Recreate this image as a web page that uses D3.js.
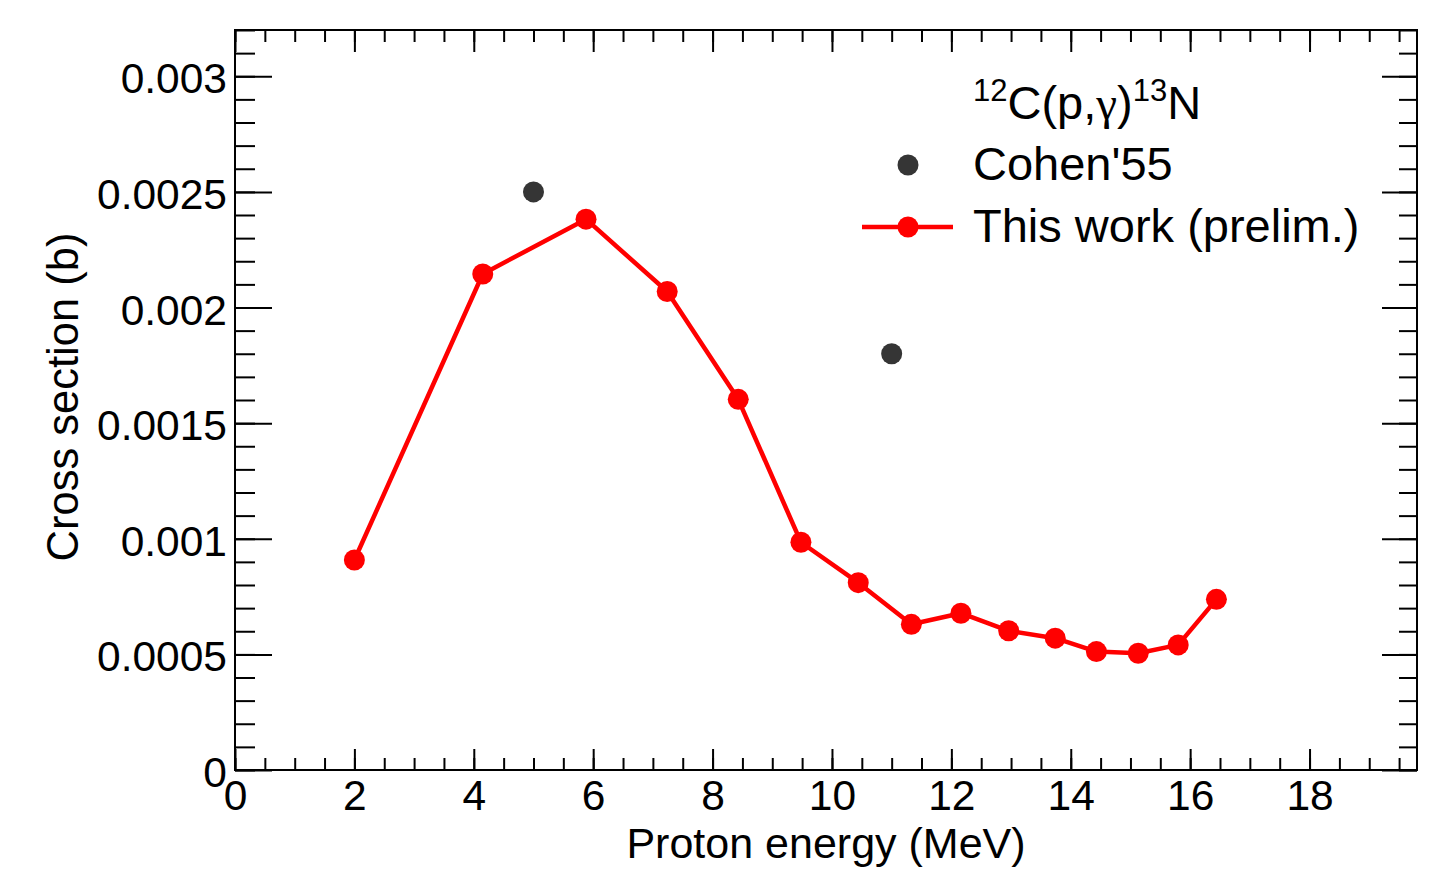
<!DOCTYPE html>
<html>
<head>
<meta charset="utf-8">
<script src="https://cdn.jsdelivr.net/npm/d3@7"></script>
<style>
  html, body { margin: 0; padding: 0; background: #fff; }
  svg { display: block; font-family: "Liberation Sans", Arial, Helvetica, sans-serif; }
</style>
</head>
<body>
<svg id="chart" width="1440" height="869"></svg>
<script>
// 12C(p,gamma)13N cross section versus proton energy
const energies = [2.0, 4.15, 5.88, 7.24, 8.43, 9.48, 10.44, 11.33, 12.16, 12.96, 13.74, 14.43, 15.13, 15.80, 16.44];
const crossSections = [0.000908, 0.002145, 0.002382, 0.002069, 0.001603, 0.000985, 0.000810, 0.000630, 0.000678, 0.000602, 0.000570, 0.000512, 0.000505, 0.000541, 0.000738];
const cohenEnergies = [5.0, 11.0];
const cohenValues = [0.0025, 0.0018];
const xTickValues = [0, 2, 4, 6, 8, 10, 12, 14, 16, 18];
const yTickValues = [0, 0.0005, 0.001, 0.0015, 0.002, 0.0025, 0.003];
const yTickLabels = ["0", "0.0005", "0.001", "0.0015", "0.002", "0.0025", "0.003"];
const xTitle = "Proton energy (MeV)";
const yTitle = "Cross section (b)";
const legendLabels = ["Cohen'55", "This work (prelim.)"];

const svg = d3.select("#chart");
const frame = { left: 235, right: 1417, top: 30, bottom: 770 };

const x = d3.scaleLinear().domain([0, 19.8]).range([frame.left, frame.right]);
const y = d3.scaleLinear().domain([0, 0.0032]).range([frame.bottom, frame.top]);

const tickFont = 42.5;
const axisStroke = "#000";

function styleAxis(g) {
  g.select(".domain").remove();
  g.selectAll(".tick line").attr("stroke", axisStroke).attr("stroke-width", 2);
  g.selectAll(".tick text").attr("fill", "#000").attr("font-size", tickFont);
}

// minor ticks
const xMinor = x.ticks(40);
const yMinor = y.ticks(32);

svg.append("g").attr("transform", `translate(0,${frame.bottom})`)
  .call(d3.axisBottom(x).tickValues(xMinor).tickSize(-12).tickFormat(""))
  .call(styleAxis);
svg.append("g").attr("transform", `translate(0,${frame.top})`)
  .call(d3.axisTop(x).tickValues(xMinor).tickSize(-12).tickFormat(""))
  .call(styleAxis);
svg.append("g").attr("transform", `translate(${frame.left},0)`)
  .call(d3.axisLeft(y).tickValues(yMinor).tickSize(-20).tickFormat(""))
  .call(styleAxis);
svg.append("g").attr("transform", `translate(${frame.right},0)`)
  .call(d3.axisRight(y).tickValues(yMinor).tickSize(-18).tickFormat(""))
  .call(styleAxis);

// major ticks and labels
svg.append("g").attr("transform", `translate(0,${frame.bottom})`)
  .call(d3.axisBottom(x).tickValues(xTickValues).tickSize(-21).tickPadding(10).tickFormat(d3.format("d")))
  .call(styleAxis);
svg.append("g").attr("transform", `translate(0,${frame.top})`)
  .call(d3.axisTop(x).tickValues(xTickValues).tickSize(-22).tickFormat(""))
  .call(styleAxis);
svg.append("g").attr("transform", `translate(${frame.left},0)`)
  .call(d3.axisLeft(y).tickValues(yTickValues).tickSize(-37).tickPadding(8)
    .tickFormat((d, i) => yTickLabels[i]))
  .call(styleAxis)
  .call(g => g.selectAll(".tick text").attr("dy", "0.39em"));
svg.append("g").attr("transform", `translate(${frame.right},0)`)
  .call(d3.axisRight(y).tickValues(yTickValues).tickSize(-35).tickFormat(""))
  .call(styleAxis);

// frame
svg.append("rect")
  .attr("x", frame.left).attr("y", frame.top)
  .attr("width", frame.right - frame.left).attr("height", frame.bottom - frame.top)
  .attr("fill", "none").attr("stroke", "#000").attr("stroke-width", 2);

// axis titles
svg.append("text")
  .attr("x", (frame.left + frame.right) / 2).attr("y", 858)
  .attr("text-anchor", "middle").attr("font-size", 43).attr("fill", "#000")
  .text(xTitle);
svg.append("text")
  .attr("transform", `translate(78,${(frame.top + frame.bottom) / 2 - 3}) rotate(-90)`)
  .attr("text-anchor", "middle").attr("font-size", 43.5).attr("fill", "#000")
  .text(yTitle);

// measurement series
const series = energies.map((e, i) => ({ e, s: crossSections[i] }));
const line = d3.line().x(d => x(d.e)).y(d => y(d.s));
svg.append("path").datum(series)
  .attr("d", line).attr("fill", "none")
  .attr("stroke", "#ff0000").attr("stroke-width", 4.5).attr("stroke-linejoin", "round");
svg.append("g").selectAll("circle").data(series).join("circle")
  .attr("cx", d => x(d.e)).attr("cy", d => y(d.s)).attr("r", 10.5)
  .attr("fill", "#ff0000");

// reference data
const cohen = cohenEnergies.map((e, i) => ({ e, s: cohenValues[i] }));
svg.append("g").selectAll("circle").data(cohen).join("circle")
  .attr("cx", d => x(d.e)).attr("cy", d => y(d.s)).attr("r", 10.5)
  .attr("fill", "#353535");

// legend
const legend = svg.append("g").attr("font-size", 47).attr("fill", "#000");
const legendTextX = 973;
const title = legend.append("text").attr("x", legendTextX).attr("y", 119);
title.append("tspan").attr("font-size", 31).attr("dy", -18).text("12");
title.append("tspan").attr("dy", 18).text("C(p,");
title.append("tspan").attr("font-family", "'Liberation Serif', serif").text("γ");
title.append("tspan").text(")");
title.append("tspan").attr("font-size", 31).attr("dy", -18).text("13");
title.append("tspan").attr("dy", 18).text("N");

legend.append("circle").attr("cx", 908).attr("cy", 165).attr("r", 10.5).attr("fill", "#353535");
legend.append("text").attr("x", legendTextX).attr("y", 180).text(legendLabels[0]);

legend.append("line").attr("x1", 862).attr("x2", 953).attr("y1", 227).attr("y2", 227)
  .attr("stroke", "#ff0000").attr("stroke-width", 4.5);
legend.append("circle").attr("cx", 908).attr("cy", 227).attr("r", 10.5).attr("fill", "#ff0000");
legend.append("text").attr("x", legendTextX).attr("y", 242).text(legendLabels[1]);
</script>
</body>
</html>
